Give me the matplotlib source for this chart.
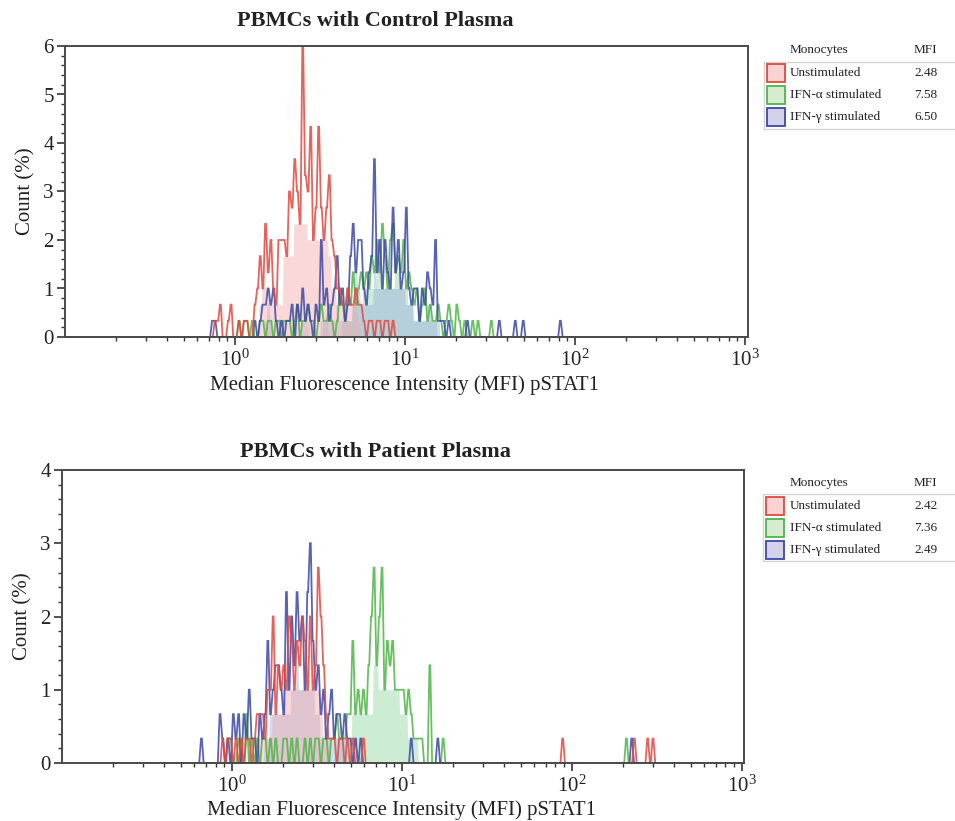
import numpy as np
import matplotlib
matplotlib.use("Agg")
import matplotlib.pyplot as plt
from matplotlib.patches import Rectangle
from matplotlib.ticker import FixedLocator, NullFormatter, FuncFormatter, MultipleLocator

plt.rcParams['font.family'] = ['Liberation Serif', 'DejaVu Serif']
plt.rcParams['mathtext.fontset'] = 'custom'
plt.rcParams['mathtext.rm'] = 'Liberation Serif'
plt.rcParams['mathtext.it'] = 'Liberation Serif:italic'

# ---------------- data ----------------
BINS_PER_DECADE = 64
LOG_MIN, LOG_MAX = -1, 3
N_BINS = (LOG_MAX - LOG_MIN) * BINS_PER_DECADE
EVENTS_PER_PCT = 3  # one event = 1/3 %

titles = ["PBMCs with Control Plasma", "PBMCs with Patient Plasma"]
series_names = ["Unstimulated", "IFN-\u03b1 stimulated", "IFN-\u03b3 stimulated"]
mfi_control = ["2.48", "7.58", "6.50"]
mfi_patient = ["2.42", "7.36", "2.49"]
y_max = [6, 4]
x_label = "Median Fluorescence Intensity (MFI) pSTAT1"
y_label = "Count (%)"

# Control plasma (events per bin, consecutive log bins starting at *_from MFI)
ctrl_unstim_from = 0.723
ctrl_unstim = [0, 1, 1, 2, 0, 0, 1, 2, 0, 0,
               1, 0, 1, 1, 0, 0, 2, 3, 5, 3,
               7, 4, 6, 3, 2, 6, 6, 6, 5, 9,
               8, 11, 9, 7, 18, 10, 9, 13, 6, 8,
               13, 8, 6, 8, 10, 6, 5, 3, 3, 2,
               2, 3, 2, 2, 3, 2, 2, 1, 0, 1,
               1, 0, 1, 1, 0, 1, 1, 0, 1]
ctrl_unstim_extra = []

ctrl_ifna_from = 1.036
ctrl_ifna = [1, 0, 1, 1, 0, 1, 0, 0, 1, 1,
             0, 1, 1, 0, 1, 1, 0, 1, 1, 1,
             0, 1, 2, 0, 1, 1, 2, 1, 1, 0,
             1, 2, 1, 1, 2, 1, 0, 1, 3, 2,
             1, 3, 2, 4, 2, 3, 4, 3, 4, 3,
             5, 4, 6, 4, 7, 5, 3, 6, 7, 4,
             5, 4, 6, 3, 4, 3, 2, 3, 1, 2,
             3, 1, 2, 1, 1, 2, 1, 0, 1, 2,
             1, 0, 2, 1, 0, 1, 0, 0, 1]
ctrl_ifna_extra = [27.2, 32.0]

ctrl_ifng_from = 0.723
ctrl_ifng = [1, 1, 0, 0, 0, 0, 0, 0, 0, 0,
             0, 0, 0, 0, 0, 0, 1, 0, 1, 2,
             2, 3, 2, 3, 1, 0, 1, 0, 1, 1,
             2, 0, 2, 1, 3, 1, 2, 1, 0, 2,
             1, 6, 2, 3, 1, 2, 3, 5, 2, 3,
             1, 2, 5, 7, 4, 6, 6, 3, 2, 4,
             5, 11, 4, 6, 3, 6, 4, 3, 8, 4,
             6, 3, 4, 8, 3, 2, 3, 3, 1, 3,
             2, 4, 3, 2, 6, 1, 1, 1, 0, 1]
ctrl_ifng_extra = [23.5, 36.0, 44.0, 49.4, 82.8]

# Patient plasma
pat_unstim_from = 0.866
pat_unstim = [1, 0, 1, 1, 0, 1, 0, 1, 0, 1,
              1, 0, 1, 2, 2, 2, 1, 3, 3, 6,
              2, 4, 3, 4, 3, 6, 5, 3, 5, 4,
              6, 5, 3, 6, 3, 4, 8, 6, 4, 2,
              1, 1, 1, 0, 1, 1, 0, 1, 0, 1,
              0, 0, 0, 1]
pat_unstim_extra = [88.0, 233.0, 279.0, 300.0]

pat_ifna_from = 0.866
pat_ifna = [0, 0, 1, 1, 0, 0, 1, 0, 0, 2,
            0, 1, 0, 1, 0, 1, 1, 0, 1, 0,
            1, 0, 0, 1, 1, 0, 1, 0, 1, 0,
            0, 1, 0, 1, 0, 1, 1, 0, 1, 1,
            0, 1, 1, 2, 1, 1, 1, 2, 2, 5,
            2, 3, 2, 3, 2, 4, 6, 8, 4, 6,
            8, 3, 5, 4, 5, 3, 3, 3, 3, 2,
            3, 2, 1, 1, 1, 1, 0, 0, 4, 0,
            0, 0, 0, 1]
pat_ifna_extra = [209.0]

pat_ifng_from = 0.626
pat_ifng = [0, 1, 0, 0, 0, 0, 0, 0, 2, 1,
            0, 1, 0, 2, 1, 2, 0, 2, 1, 3,
            1, 1, 0, 2, 1, 2, 5, 2, 3, 4,
            4, 3, 2, 7, 3, 6, 4, 7, 5, 6,
            3, 7, 9, 5, 3, 4, 2, 3, 1, 2,
            3, 1, 2, 2, 1, 2, 1, 1, 0, 1,
            0, 1]
pat_ifng_extra = [11.2, 16.0, 225.0]

line_colors = ["#e2483f", "#4fb548", "#3c48a6"]
fill_colors = ["#f4a9a9", "#8ed6a0", "#9ab0e2"]
legend_fill = ["#f9d2d2", "#d6ecd0", "#d3d2e9"]


def build(start_mfi, counts, extra):
    arr = np.zeros(N_BINS)
    i0 = int(round((np.log10(start_mfi) - LOG_MIN) * BINS_PER_DECADE))
    arr[i0:i0 + len(counts)] = counts
    for v in extra:
        j = int((np.log10(v) - LOG_MIN) * BINS_PER_DECADE)
        arr[j] += 1
    return arr / EVENTS_PER_PCT


def trapezoid_xy(arr, inset_frac=0.34):
    edges = LOG_MIN + np.arange(N_BINS + 1) / BINS_PER_DECADE
    inset = inset_frac / BINS_PER_DECADE
    xs = np.empty(2 * N_BINS)
    ys = np.empty(2 * N_BINS)
    xs[0::2] = edges[:-1] + inset
    xs[1::2] = edges[1:] - inset
    ys[0::2] = arr
    ys[1::2] = arr
    return 10 ** xs, ys


def envelope(arr, w=5):
    pad = np.pad(arr, w // 2, mode='constant')
    stack = np.vstack([pad[k:k + len(arr)] for k in range(w)])
    return stack.min(axis=0)


panels = [
    dict(series=[build(ctrl_unstim_from, ctrl_unstim, ctrl_unstim_extra),
                 build(ctrl_ifna_from, ctrl_ifna, ctrl_ifna_extra),
                 build(ctrl_ifng_from, ctrl_ifng, ctrl_ifng_extra)],
         mfi=mfi_control),
    dict(series=[build(pat_unstim_from, pat_unstim, pat_unstim_extra),
                 build(pat_ifna_from, pat_ifna, pat_ifna_extra),
                 build(pat_ifng_from, pat_ifng, pat_ifng_extra)],
         mfi=mfi_patient),
]

W, H = 955, 821
fig = plt.figure(figsize=(W / 100, H / 100), dpi=100)

ax_px = [(65, 46, 748, 337), (62, 470, 744, 763)]
xlims = [(0.1, 1041), (0.1, 1028)]
legend_px = [dict(header=50, rows=[73, 95, 117], box=(764, 62, 129)),
             dict(header=483, rows=[506, 528, 550], box=(763, 494, 561))]
title_y = [21, 452]
xlabel_y = [385, 810]


def fx(px):
    return px / W


def fy(py):
    return 1 - py / H


for p, panel in enumerate(panels):
    l, t, r, b = ax_px[p]
    ax = fig.add_axes([fx(l), fy(b), (r - l) / W, (b - t) / H])
    ax.set_xscale('log')
    ax.set_xlim(*xlims[p])
    ax.set_ylim(0, y_max[p])

    # fills
    for k in [1, 2, 0]:
        x, y = trapezoid_xy(envelope(panel['series'][k]), 0.1)
        ax.fill_between(x, 0, y, color=fill_colors[k], alpha=0.45, lw=0)
    # lines
    for k in [1, 2, 0]:
        x, y = trapezoid_xy(panel['series'][k])
        ax.plot(x, y, color=line_colors[k], lw=1.3, alpha=0.85,
                solid_joinstyle='miter')

    for s in ax.spines.values():
        s.set_color('#4a4a4a')
        s.set_linewidth(1.4)

    ax.xaxis.set_major_locator(FixedLocator([1, 10, 100, 1000]))
    minors = [m * 10.0 ** d for d in range(-1, 3) for m in range(2, 10)]
    ax.xaxis.set_minor_locator(FixedLocator(minors))
    ax.xaxis.set_minor_formatter(NullFormatter())
    ax.xaxis.set_major_formatter(FuncFormatter(
        lambda v, pos: r'$10^{%d}$' % int(round(np.log10(v)))))
    ax.yaxis.set_major_locator(MultipleLocator(1))
    ax.yaxis.set_minor_locator(MultipleLocator(0.2))
    ax.tick_params(axis='both', which='major', direction='out', length=6,
                   width=1.2, color='#333333', labelsize=15, labelcolor='#222222')
    ax.tick_params(axis='both', which='minor', direction='out', length=3,
                   width=1.0, color='#333333')
    ax.tick_params(axis='x', which='major', pad=3)
    ax.tick_params(axis='y', which='major', pad=2)

    ax.set_ylabel(y_label, fontsize=15, color='#222222', labelpad=6)
    fig.text(fx((l + r) / 2 - 2), fy(xlabel_y[p]), x_label, ha='center',
             va='center', fontsize=15, color='#222222')
    fig.text(fx(375), fy(title_y[p]), titles[p], ha='center', va='center',
             fontsize=16, fontweight='bold', color='#222222')

    # legend table
    lg = legend_px[p]
    bx, by0, by1 = lg['box']
    fig.patches.append(Rectangle((fx(bx), fy(by1)), fx(W - bx + 5), (by1 - by0) / H,
                                 transform=fig.transFigure, facecolor='white',
                                 edgecolor='#d4d4d4', lw=1.0))
    fig.text(fx(790), fy(lg['header']), "Monocytes", ha='left', va='center',
             fontsize=9.5, color='#222222')
    fig.text(fx(914), fy(lg['header']), "MFI", ha='left', va='center',
             fontsize=9.5, color='#222222')
    for k, yc in enumerate(lg['rows']):
        fig.patches.append(Rectangle((fx(bx + 2.5), fy(yc + 9)), fx(18), 18 / H,
                                     transform=fig.transFigure,
                                     facecolor=legend_fill[k],
                                     edgecolor=line_colors[k], lw=1.3))
        fig.text(fx(790), fy(yc), series_names[k], ha='left', va='center',
                 fontsize=9.5, color='#222222')
        fig.text(fx(914), fy(yc), panel['mfi'][k], ha='left', va='center',
                 fontsize=9.5, color='#222222')

fig.savefig("out.png", dpi=100, facecolor='white')
